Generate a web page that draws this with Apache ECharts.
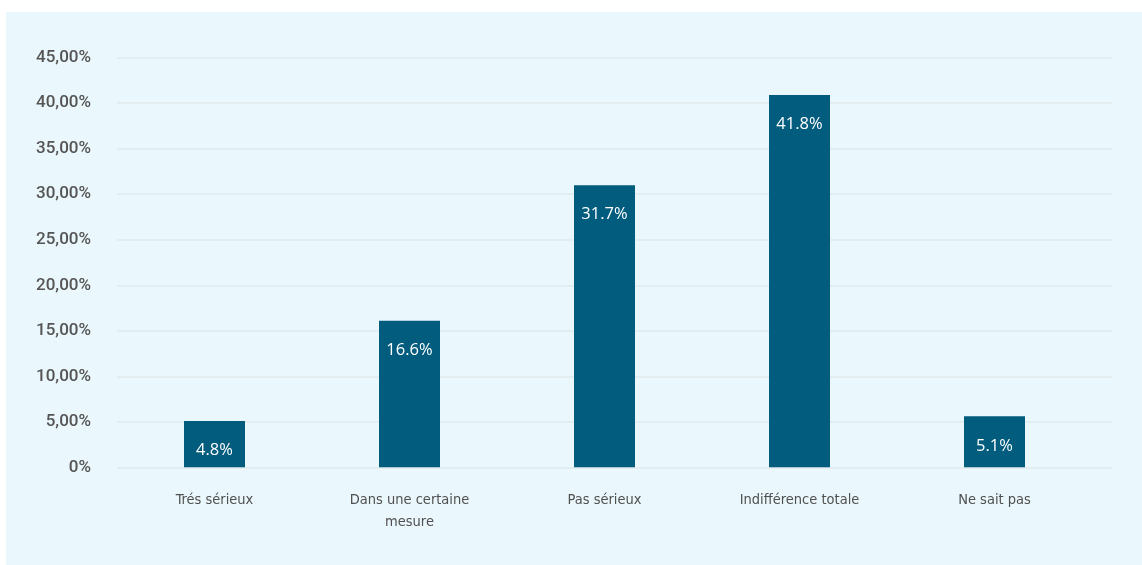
<!DOCTYPE html>
<html>
<head>
<meta charset="utf-8">
<script src="https://cdn.jsdelivr.net/npm/echarts@6/dist/echarts.min.js"></script>
<style>
  html, body { margin: 0; padding: 0; background: #ffffff; }
  #panel {
    position: absolute; left: 6px; top: 12px;
    width: 1136px; height: 553px;
    background: #eaf7fc;
  }
  #chart { width: 1136px; height: 553px; }
</style>
</head>
<body>
<div id="panel"><div id="chart"></div></div>
<script>
// categories along the x axis
const categories = [
  "Trés sérieux",
  "Dans une certaine\nmesure",
  "Pas sérieux",
  "Indifférence totale",
  "Ne sait pas"
];

// bar heights as drawn in the picture (percent)
const barValues = [5.1, 16.1, 31.0, 40.9, 5.6];

// the text printed inside each bar
const barLabels = ["4.8%", "16.6%", "31.7%", "41.8%", "5.1%"];

// y axis ticks
const yTicks = [0, 5, 10, 15, 20, 25, 30, 35, 40, 45];

const BAR_COLOR = "#015c7e";
const GRID_COLOR = "#e1e9ea";

const chart = echarts.init(document.getElementById("chart"));

const option = {
  animation: false,
  grid: [
    // bars live here (categories take 195px each)
    { left: 111, right: 50, top: 45.7, bottom: 97.7 },
    // the wider grid only carries the y axis and its split lines
    { left: 111, right: 30, top: 45.7, bottom: 97.7 }
  ],
  xAxis: [
    {
      type: "category",
      gridIndex: 0,
      data: categories,
      axisLine: { show: false },
      axisTick: { show: false },
      axisLabel: {
        margin: 22,
        fontFamily: "'DejaVu Sans Condensed', Roboto",
        fontSize: 14.5,
        lineHeight: 22,
        color: "#505050",
        interval: 0
      }
    },
    { type: "category", gridIndex: 1, data: categories, show: false }
  ],
  yAxis: [
    {
      type: "value",
      gridIndex: 0,
      min: 0,
      max: 45,
      interval: 5,
      show: false,
      splitLine: { show: false }
    },
    {
      type: "value",
      gridIndex: 1,
      min: yTicks[0],
      max: yTicks[yTicks.length - 1],
      interval: 5,
      axisLine: { show: false },
      axisTick: { show: false },
      splitLine: { lineStyle: { color: GRID_COLOR, width: 1.5 } },
      axisLabel: {
        margin: 26,
        fontFamily: "Roboto",
        fontWeight: 500,
        fontSize: 17,
        color: "#555555",
        formatter: v => (v === 0 ? "0%" : v.toFixed(2).replace(".", ",") + "%")
      }
    }
  ],
  series: [
    {
      type: "bar",
      xAxisIndex: 0,
      yAxisIndex: 0,
      barWidth: 61,
      itemStyle: { color: BAR_COLOR },
      data: barValues,
      label: {
        show: true,
        position: "insideTop",
        distance: 21,
        color: "#ffffff",
        fontFamily: "Open Sans",
        fontSize: 16.5,
        formatter: p => barLabels[p.dataIndex]
      }
    }
  ]
};

chart.setOption(option);
</script>
</body>
</html>
